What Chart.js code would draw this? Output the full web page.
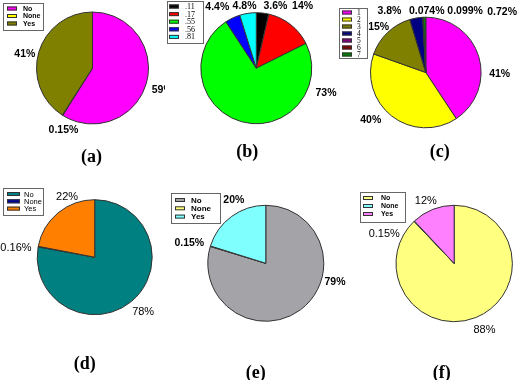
<!DOCTYPE html>
<html>
<head>
<meta charset="utf-8">
<script src="https://cdn.jsdelivr.net/npm/chart.js@4.4.1/dist/chart.umd.min.js"></script>
<style>
  html, body { margin: 0; padding: 0; background: #fff; }
  #wrap { position: relative; width: 520px; height: 380px; overflow: hidden; background: #fff; }
  #wrap canvas { position: absolute; left: 0; top: 0; }
</style>
</head>
<body>
<div id="wrap"></div>
<script>
// ---------- data ----------
const panelTitles = ['(a)', '(b)', '(c)', '(d)', '(e)', '(f)'];

const aLabels = ['No', 'None', 'Yes'];
const aValues = [59, 0.15, 41];

const bLabels = ['.11', '.17', '.55', '.56', '.81'];
const bValues = [3.6, 14, 73, 4.4, 4.8];

const cLabels = ['1', '2', '3', '4', '5', '6', '7'];
const cValues = [41, 40, 15, 3.8, 0.074, 0.099, 0.72];

const dLabels = ['No', 'None', 'Yes'];
const dValues = [78, 0.16, 22];

const eLabels = ['No', 'None', 'Yes'];
const eValues = [79, 0.15, 20];

const fLabels = ['No', 'None', 'Yes'];
const fValues = [88, 0.15, 12];

// ---------- styles ----------
const aColors = ['#ff00ff', '#ffff00', '#808000'];
const bColors = ['#000000', '#ff0000', '#00ff00', '#0000ff', '#00ffff'];
const cColors = ['#ff00ff', '#ffff00', '#808000', '#000080', '#800080', '#800000', '#008000'];
const dColors = ['#008080', '#0000a0', '#ff8000'];
const eColors = ['#a4a4a8', '#ffff80', '#80ffff'];
const fColors = ['#ffff80', '#80ffff', '#ff80ff'];

const W = 520, H = 380;

const panelPlugin = {
  id: 'panelDeco',
  afterDatasetsDraw(chart, args, opts) {
    const ctx = chart.ctx;
    const meta = chart.getDatasetMeta(0);
    const ds = chart.data.datasets[0];
    ctx.save();
    // legend
    const L = opts.legend;
    ctx.fillStyle = '#fff';
    ctx.fillRect(L.x, L.y, L.w, L.h);
    ctx.strokeStyle = '#666';
    ctx.lineWidth = 1;
    ctx.strokeRect(L.x + 0.5, L.y + 0.5, L.w, L.h);
    ctx.textAlign = 'left';
    ctx.textBaseline = 'middle';
    chart.data.labels.forEach((lab, i) => {
      const cy = L.y + L.first + i * L.pitch;
      ctx.fillStyle = ds.backgroundColor[i];
      ctx.fillRect(L.sx, cy - L.sh / 2, L.sw, L.sh);
      ctx.strokeStyle = '#333';
      ctx.strokeRect(L.sx + 0.5, cy - L.sh / 2 + 0.5, L.sw - 1, L.sh - 1);
      ctx.fillStyle = '#000';
      ctx.font = L.font;
      ctx.fillText(lab, L.tx, cy + 0.5);
    });
    // percentage labels
    ctx.font = opts.labelFont;
    ctx.fillStyle = '#000';
    ctx.textAlign = 'center';
    ctx.textBaseline = 'middle';
    meta.data.forEach((arc, i) => {
      const p = arc.getProps(['x', 'y', 'startAngle', 'endAngle', 'outerRadius'], true);
      const mid = (p.startAngle + p.endAngle) / 2;
      const dx = Math.cos(mid), dy = Math.sin(mid);
      const txt = String(ds.data[i]) + '%';
      const w = ctx.measureText(txt).width, h = 8;
      const R = p.outerRadius + 4;
      const n = (opts.nudges && opts.nudges[i]) || [0, 0];
      ctx.fillText(txt, p.x + R * dx + dx * w / 2 + n[0], p.y + R * dy + dy * h / 2 + n[1]);
    });
    // panel title
    const c0 = meta.data[0];
    ctx.font = 'bold 18px "Liberation Serif", "DejaVu Serif", serif';
    ctx.textAlign = 'center';
    ctx.textBaseline = 'middle';
    ctx.fillStyle = '#000';
    ctx.fillText(opts.title, c0.x + opts.titleOffset[0], c0.y + opts.titleOffset[1]);
    ctx.restore();
  }
};

const BOLD = 'bold 10.5px "Liberation Sans", Arial, sans-serif';
const REG = '11px "Liberation Sans", Arial, sans-serif';

const panels = [
  { labels: aLabels, values: aValues, colors: aColors, title: panelTitles[0],
    cx: 92.5, cy: 68, r: 56.5, clip: [0, 0, 165, 186], font: BOLD,
    nudges: [[2, 4], [11, 8.5], [0, 4]], titleOffset: [-1, 89],
    legend: { x: 3, y: 3, w: 40, h: 27, first: 5.5, pitch: 7.5, sx: 7, sw: 10, sh: 4, tx: 23,
      font: 'bold 7px "Liberation Sans", Arial, sans-serif' } },
  { labels: bLabels, values: bValues, colors: bColors, title: panelTitles[1],
    cx: 256.3, cy: 68.2, r: 56, clip: [165, 0, 337, 186], font: BOLD,
    nudges: [[11, 1], [3, -12], [88, -36.5], [-8.5, -4], [-1, 1]], titleOffset: [-9, 84],
    legend: { x: 167, y: 1, w: 36, h: 42, first: 5.5, pitch: 7.6, sx: 169, sw: 10, sh: 4, tx: 185,
      font: '8px "Liberation Serif", serif' } },
  { labels: cLabels, values: cValues, colors: cColors, title: panelTitles[2],
    cx: 425.8, cy: 72.5, r: 55.8, clip: [337, 0, 520, 186], font: BOLD,
    nudges: [[7, 20], [-12, -2], [1, 0], [-24, 1], [5, 2], [43, 2], [78, 3]], titleOffset: [14, 80],
    legend: { x: 339, y: 8, w: 28, h: 50, first: 4.5, pitch: 7, sx: 342, sw: 10, sh: 4, tx: 357,
      font: '7.5px "Liberation Serif", serif' } },
  { labels: dLabels, values: dValues, colors: dColors, title: panelTitles[3],
    cx: 94.7, cy: 257.2, r: 58, clip: [0, 186, 170, 380], font: REG,
    nudges: [[2, 4], [-3, 2.5], [18.5, -10]], titleOffset: [-10, 107],
    legend: { x: 3, y: 188, w: 40, h: 27, first: 6, pitch: 7.3, sx: 7, sw: 13, sh: 4, tx: 24,
      font: '7.5px "Liberation Sans", Arial, sans-serif' } },
  { labels: eLabels, values: eValues, colors: eColors, title: panelTitles[4],
    cx: 265.8, cy: 263.3, r: 58.5, clip: [170, 186, 352, 380], font: BOLD,
    nudges: [[26, -34], [-3, -1], [11, -10]], titleOffset: [-10, 110],
    legend: { x: 171, y: 193, w: 49, h: 30, first: 7, pitch: 8.3, sx: 175, sw: 10, sh: 4, tx: 191,
      font: 'bold 8px "Liberation Sans", Arial, sans-serif' } },
  { labels: fLabels, values: fValues, colors: fColors, title: panelTitles[5],
    cx: 454.2, cy: 263.5, r: 58.7, clip: [352, 186, 520, 380], font: REG,
    nudges: [[3, 5], [-16.5, 19], [-1.5, -1]], titleOffset: [-12.5, 110],
    legend: { x: 360, y: 192, w: 45, h: 30, first: 6, pitch: 8, sx: 363, sw: 10, sh: 4, tx: 381,
      font: 'bold 7px "Liberation Sans", Arial, sans-serif' } }
];

const wrap = document.getElementById('wrap');
panels.forEach((pn) => {
  const cv = document.createElement('canvas');
  cv.width = W; cv.height = H;
  cv.style.width = W + 'px'; cv.style.height = H + 'px';
  const [x0, y0, x1, y1] = pn.clip;
  cv.style.clipPath = `inset(${y0}px ${W - x1}px ${H - y1}px ${x0}px)`;
  wrap.appendChild(cv);
  new Chart(cv.getContext('2d'), {
    type: 'pie',
    data: {
      labels: pn.labels,
      datasets: [{
        data: pn.values,
        backgroundColor: pn.colors,
        borderColor: '#333333',
        borderWidth: 1,
        hoverOffset: 0
      }]
    },
    options: {
      responsive: false,
      animation: false,
      events: [],
      layout: {
        padding: {
          left: pn.cx - pn.r,
          top: pn.cy - pn.r,
          right: W - pn.cx - pn.r,
          bottom: H - pn.cy - pn.r
        }
      },
      plugins: {
        legend: { display: false },
        tooltip: { enabled: false },
        panelDeco: {
          labelFont: pn.font,
          nudges: pn.nudges,
          legend: pn.legend,
          title: pn.title,
          titleOffset: pn.titleOffset
        }
      }
    },
    plugins: [panelPlugin]
  });
});
</script>
</body>
</html>
